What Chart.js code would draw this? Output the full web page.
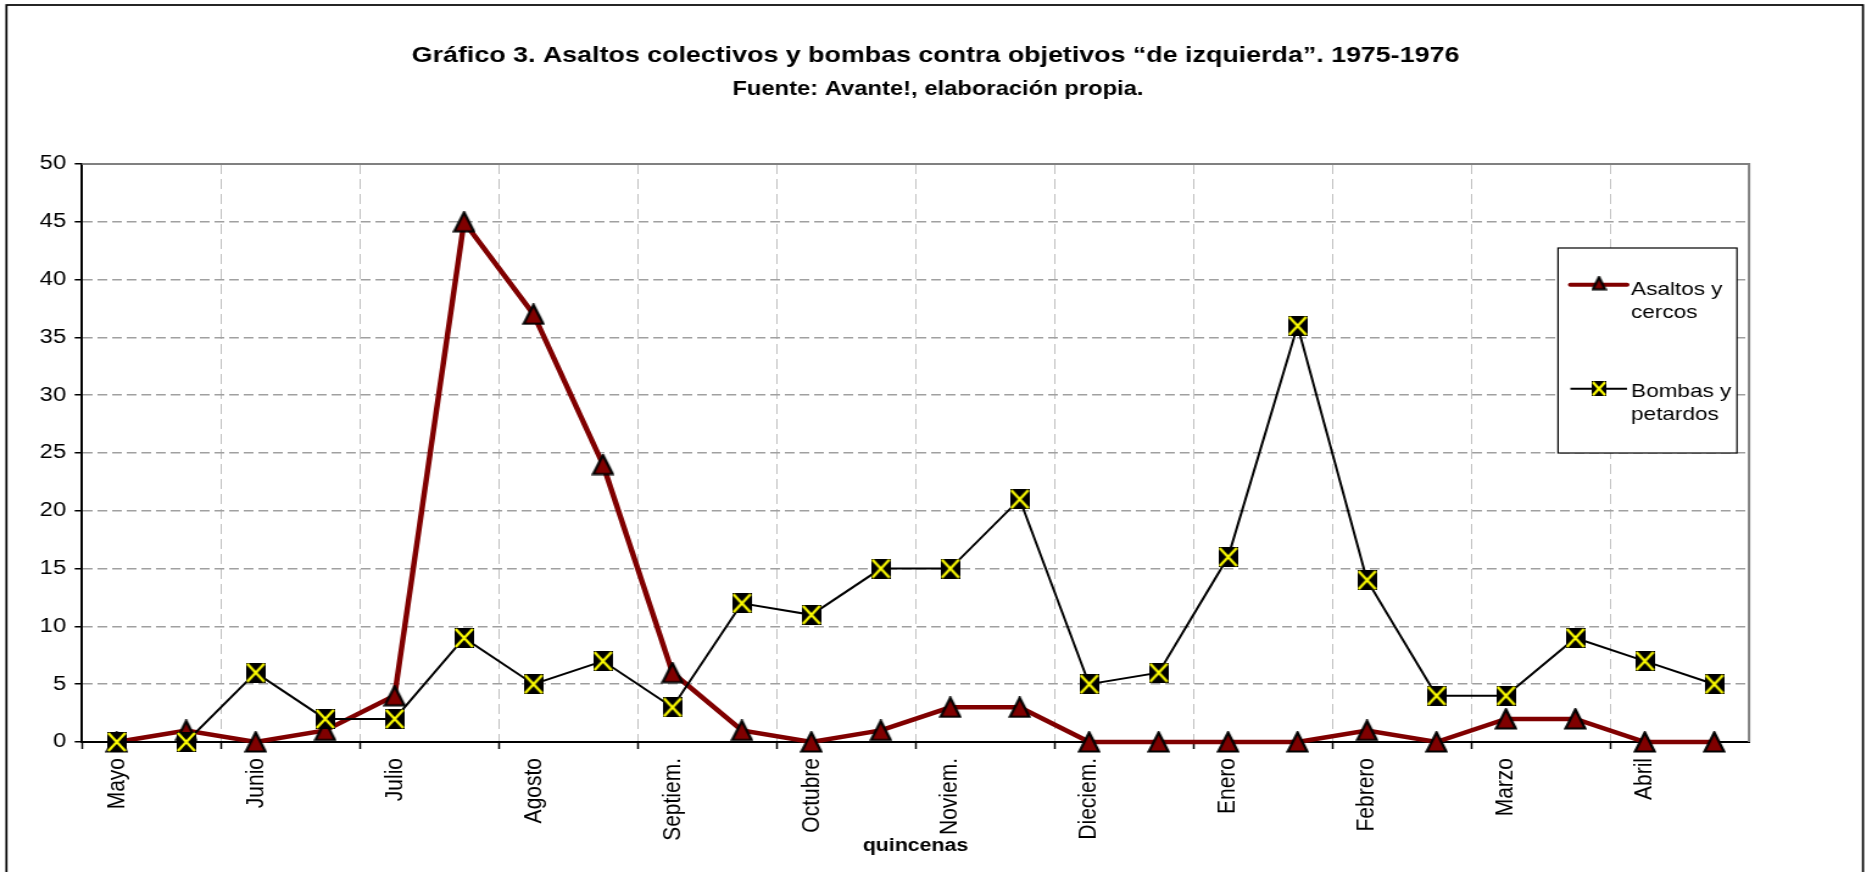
<!DOCTYPE html>
<html>
<head>
<meta charset="utf-8">
<script src="https://cdn.jsdelivr.net/npm/chart.js@4/dist/chart.umd.min.js"></script>
<style>
html, body { margin: 0; padding: 0; background: #fff; overflow: hidden; }
#wrap { width: 1536px; height: 872px; transform: scaleX(1.21875); transform-origin: 0 0; }
</style>
</head>
<body>
<div id="wrap"><canvas id="grafico" width="1536" height="872"></canvas></div>
<script>
const titulo = 'Gráfico 3. Asaltos colectivos y bombas contra objetivos “de izquierda”. 1975-1976';
const subtitulo = 'Fuente: Avante!, elaboración propia.';
const tituloEje = 'quincenas';

// una etiqueta por mes, dos quincenas por mes
const meses = ['Mayo', 'Junio', 'Julio', 'Agosto', 'Septiem.', 'Octubre', 'Noviem.', 'Dieciem.', 'Enero', 'Febrero', 'Marzo', 'Abril'];
const asaltos = [0, 1, 0, 1, 4, 45, 37, 24, 6, 1, 0, 1, 3, 3, 0, 0, 0, 0, 1, 0, 2, 2, 0, 0];
const bombas = [0, 0, 6, 2, 2, 9, 5, 7, 3, 12, 11, 15, 15, 21, 5, 6, 16, 36, 14, 4, 4, 9, 7, 5];
const leyendaAsaltos = ['Asaltos y', 'cercos'];
const leyendaBombas = ['Bombas y', 'petardos'];
const ejeY = { min: 0, max: 50, paso: 5 };

const quincenas = meses.flatMap(m => [m, m]);
const fuente = '"Liberation Sans", Arial, sans-serif';

function marcaTriangulo(w, h) {
    const c = document.createElement('canvas');
    c.width = w; c.height = h;
    const g = c.getContext('2d');
    g.beginPath();
    g.moveTo(w / 2, 1.5);
    g.lineTo(w - 1.5, h - 1.5);
    g.lineTo(1.5, h - 1.5);
    g.closePath();
    g.fillStyle = '#800000';
    g.fill();
    g.lineWidth = 2.2;
    g.strokeStyle = '#000';
    g.stroke();
    return c;
}

function marcaCuadro(w, h) {
    const c = document.createElement('canvas');
    c.width = w; c.height = h;
    const g = c.getContext('2d');
    g.fillStyle = '#000';
    g.fillRect(0, 0, w, h);
    g.strokeStyle = '#ffff00';
    g.lineWidth = 2.2;
    g.beginPath();
    g.moveTo(1, 1); g.lineTo(w - 1, h - 1);
    g.moveTo(w - 1, 1); g.lineTo(1, h - 1);
    g.stroke();
    return c;
}

const triangulo = marcaTriangulo(19, 22);
const cuadro = marcaCuadro(16, 20);
const trianguloChico = marcaTriangulo(13, 15);
const cuadroChico = marcaCuadro(12, 15);

const marco = {
    id: 'marco',
    afterDraw(chart) {
        const ctx = chart.ctx;
        const a = chart.chartArea;
        ctx.save();

        // borde superior y derecho del area de trazado
        ctx.strokeStyle = '#808080';
        ctx.lineWidth = 2;
        ctx.beginPath();
        ctx.moveTo(a.left, a.top);
        ctx.lineTo(a.right, a.top);
        ctx.lineTo(a.right, a.bottom);
        ctx.stroke();

        // marco exterior
        ctx.strokeStyle = '#000';
        ctx.lineWidth = 1.7;
        ctx.strokeRect(5.3, 5, 1523.3, 900);

        ctx.fillStyle = '#000';
        ctx.textAlign = 'center';
        ctx.textBaseline = 'alphabetic';
        ctx.font = 'bold 22px ' + fuente;
        ctx.fillText(titulo, 767.6, 62);
        ctx.font = 'bold 19.5px ' + fuente;
        ctx.fillText(subtitulo, 769.6, 95);
        ctx.font = 'bold 17.5px ' + fuente;
        ctx.fillText(tituloEje, (a.left + a.right) / 2, 851);

        // leyenda
        const lx = 1278.4, ly = 248, lw = 146.8, lh = 205;
        ctx.fillStyle = '#fff';
        ctx.fillRect(lx, ly, lw, lh);
        ctx.strokeStyle = '#000';
        ctx.lineWidth = 1.2;
        ctx.strokeRect(lx, ly, lw, lh);

        ctx.lineCap = 'round';
        ctx.strokeStyle = '#800000';
        ctx.lineWidth = 4;
        ctx.beginPath();
        ctx.moveTo(1288.5, 284.7); ctx.lineTo(1335, 284.7);
        ctx.stroke();
        ctx.drawImage(trianguloChico, 1312 - 6.5, 284.7 - 9);

        ctx.lineCap = 'butt';
        ctx.strokeStyle = '#000';
        ctx.lineWidth = 2;
        ctx.beginPath();
        ctx.moveTo(1288.5, 388.7); ctx.lineTo(1335, 388.7);
        ctx.stroke();
        ctx.drawImage(cuadroChico, 1312 - 6, 388.7 - 7.5);

        ctx.fillStyle = '#000';
        ctx.textAlign = 'left';
        ctx.font = '18.5px ' + fuente;
        ctx.fillText(leyendaAsaltos[0], 1338.3, 295);
        ctx.fillText(leyendaAsaltos[1], 1338.3, 318);
        ctx.fillText(leyendaBombas[0], 1338.3, 397);
        ctx.fillText(leyendaBombas[1], 1338.3, 420);
        ctx.restore();
    }
};

const par = (c) => c.index % 2 === 0;

new Chart(document.getElementById('grafico'), {
    type: 'line',
    data: {
        labels: quincenas,
        datasets: [{
            label: 'Asaltos y cercos',
            data: asaltos,
            borderColor: '#800000',
            backgroundColor: '#800000',
            borderWidth: 4.5,
            pointStyle: triangulo,
            pointRadius: 5,
            tension: 0,
            clip: false,
            order: 1
        }, {
            label: 'Bombas y petardos',
            data: bombas,
            borderColor: '#000',
            backgroundColor: '#000',
            borderWidth: 2,
            pointStyle: cuadro,
            pointRadius: 5,
            tension: 0,
            clip: false,
            order: 0
        }]
    },
    options: {
        responsive: false,
        animation: false,
        layout: { padding: { top: 164, right: 100.9, bottom: 0, left: 0 } },
        plugins: {
            legend: { display: false },
            tooltip: { enabled: false }
        },
        scales: {
            x: {
                offset: true,
                afterFit: (s) => { s.height = 130; },
                grid: {
                    offset: true,
                    color: (c) => par(c) ? '#c0c0c0' : 'rgba(0,0,0,0)',
                    tickColor: (c) => par(c) ? '#000' : 'rgba(0,0,0,0)',
                    lineWidth: 1,
                    tickLength: 7,
                    tickWidth: 1.5
                },
                border: { color: '#000', width: 2, dash: [10, 5] },
                ticks: {
                    autoSkip: false,
                    minRotation: 90,
                    maxRotation: 90,
                    padding: 9,
                    color: '#000',
                    font: { family: fuente, size: 21 },
                    callback: function (v, i) { return i % 2 === 0 ? this.getLabelForValue(v) : ''; }
                }
            },
            y: {
                min: ejeY.min,
                max: ejeY.max,
                afterFit: (s) => { s.width = 67.3; },
                grid: {
                    color: '#a0a0a0',
                    lineWidth: 1.5,
                    tickColor: '#000',
                    tickLength: 6,
                    tickWidth: 1.5
                },
                border: { color: '#000', width: 2, dash: [8, 4] },
                ticks: {
                    stepSize: ejeY.paso,
                    padding: 7,
                    color: '#000',
                    font: { family: fuente, size: 19.5 }
                }
            }
        }
    },
    plugins: [marco]
});
</script>
</body>
</html>
